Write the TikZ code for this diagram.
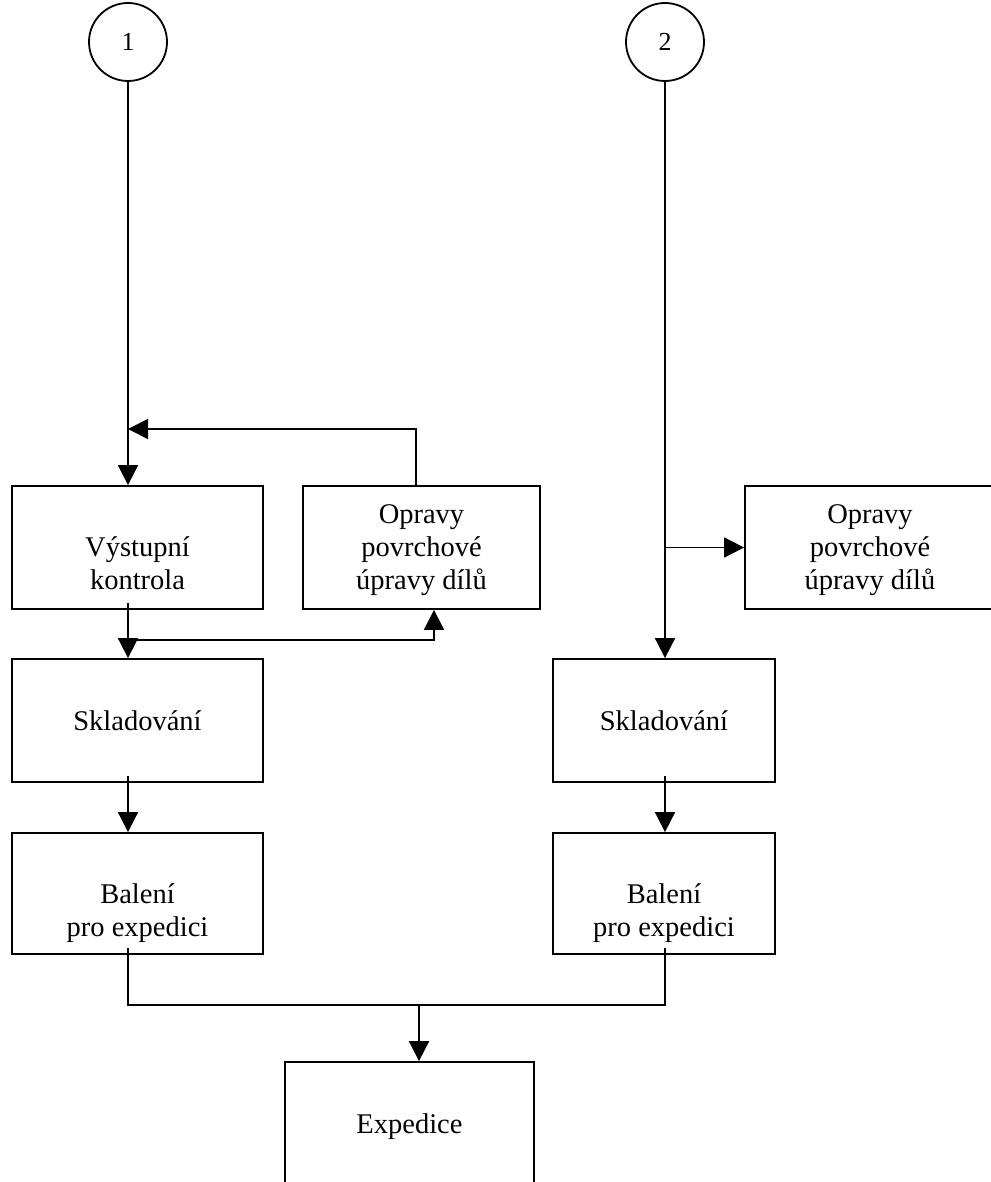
\documentclass[tikz,border=0pt]{standalone}
\usepackage{fontspec}
\setmainfont{Liberation Serif}
\usetikzlibrary{arrows.meta,calc}

\tikzset{
  box/.style={draw, line width=1.8pt, rectangle, inner sep=0pt},
  conn/.style={draw, line width=1.8pt, circle, inner sep=0pt, minimum size=78pt,
    font=\fontsize{26pt}{30pt}\selectfont},
  lbl/.style={inner sep=0pt, align=center, font=\fontsize{28.5pt}{33pt}\selectfont},
  wire/.style={line width=1.8pt},
  arr/.style={wire, -{Triangle[length=20pt, width=20pt]}}
}

\begin{document}
\begin{tikzpicture}[x=1pt, y=-1pt]
  \useasboundingbox (0,0) rectangle (990,1182);

  % page connectors
  \node[conn] (c1) at (128,42) {1};
  \node[conn] (c2) at (665,42) {2};

  % left branch boxes
  \node[box, minimum width=251pt, minimum height=123pt] (vk) at (137.5,547.5) {};
  \node[box, minimum width=237pt, minimum height=123pt] (ol) at (421.5,547.5) {};
  \node[box, minimum width=251pt, minimum height=123pt] (sl) at (137.5,720.5) {};
  \node[box, minimum width=251pt, minimum height=121pt] (bl) at (137.5,893.5) {};

  % right branch boxes
  \node[box, minimum width=250pt, minimum height=123pt] (or) at (870,547.5) {};
  \node[box, minimum width=222pt, minimum height=123pt] (sr) at (664,720.5) {};
  \node[box, minimum width=222pt, minimum height=121pt] (br) at (664,893.5) {};

  % shipping
  \node[box, minimum width=249pt, minimum height=150pt] (ex) at (409.5,1137) {};

  % box texts (base anchor = baseline of the last line)
  \node[lbl, anchor=base] (vk-t) at ($(vk.north)+(0,104)$) {Výstupní\\kontrola};
  \node[lbl, anchor=base] (ol-t) at ($(ol.north)+(0,104)$) {Opravy\\povrchové\\úpravy dílů};
  \node[lbl, anchor=base] (sl-t) at ($(sl.north)+(0,72)$) {Skladování};
  \node[lbl, anchor=base] (bl-t) at ($(bl.north)+(0,104)$) {Balení\\pro expedici};
  \node[lbl, anchor=base] (or-t) at ($(or.north)+(0,104)$) {Opravy\\povrchové\\úpravy dílů};
  \node[lbl, anchor=base] (sr-t) at ($(sr.north)+(0,72)$) {Skladování};
  \node[lbl, anchor=base] (br-t) at ($(br.north)+(0,104)$) {Balení\\pro expedici};
  \node[lbl, anchor=base] (ex-t) at ($(ex.north)+(0,72)$) {Expedice};

  % routing points
  \coordinate (fb) at (416,429);
  \coordinate (lp) at (434,640);
  \coordinate (jn) at (419,1005);

  % left flow
  \draw[arr] (c1.south) -- (c1 |- vk.north);
  \draw[arr] (ol.north -| fb) -- (fb) -- (c1 |- fb);
  \draw[arr] ($(vk.south -| c1)+(0,-7)$) -- (c1 |- sl.north);
  \draw[arr] (c1 |- lp) -- (lp) -- (lp |- ol.south);
  \draw[arr] ($(sl.south -| c1)+(0,-7)$) -- (c1 |- bl.north);

  % right flow
  \draw[arr] (c2.south) -- (c2 |- sr.north);
  \draw[arr] (c2 |- or.west) -- (or.west);
  \draw[arr] ($(sr.south -| c2)+(0,-7)$) -- (c2 |- br.north);

  % merge into shipping
  \coordinate (la) at ($(bl.south -| c1)+(0,-7)$);
  \coordinate (ra) at ($(br.south -| c2)+(0,-7)$);
  \draw[wire] (la) -- (la |- jn) -- (ra |- jn) -- (ra);
  \draw[arr] (jn) -- (jn |- ex.north);
\end{tikzpicture}
\end{document}
